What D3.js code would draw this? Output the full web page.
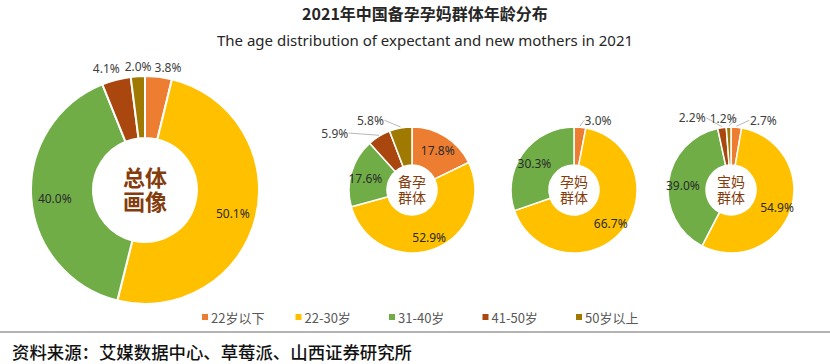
<!DOCTYPE html>
<html>
<head>
<meta charset="utf-8">
<script src="https://cdn.jsdelivr.net/npm/d3@7"></script>
<style>
  html, body { margin: 0; padding: 0; background: #fff; }
  svg { display: block; }
</style>
</head>
<body>
<svg id="chart" width="830" height="364"></svg>
<script>
// data
const categories = ['22岁以下', '22-30岁', '31-40岁', '41-50岁', '50岁以上']
const groupNames = ['总体画像', '备孕群体', '孕妈群体', '宝妈群体']
const overall    = [3.8, 50.1, 40.0, 4.1, 2.0]
const preparing  = [17.8, 52.9, 17.6, 5.9, 5.8]
const pregnant   = [3.0, 66.7, 30.3, 0, 0]
const newMothers = [2.7, 54.9, 39.0, 2.2, 1.2]
const seriesByGroup = [overall, preparing, pregnant, newMothers]

const title = '2021年中国备孕孕妈群体年龄分布'
const subtitle = 'The age distribution of expectant and new mothers in 2021'
const source = '资料来源：艾媒数据中心、草莓派、山西证券研究所'

const colors = ['#ED7D31', '#FFC000', '#70AD47', '#A9470F', '#A07A00']
const cjk = '"Noto Sans CJK SC", "Noto Sans", sans-serif'

// layout of each donut (centre, radii, centre text size)
const donuts = [
  {cx: 145, cy: 190, r: 114, ir: 52, fs: 22, bold: true},
  {cx: 412, cy: 190, r: 63, ir: 25, fs: 14, bold: false},
  {cx: 574, cy: 190, r: 63, ir: 25, fs: 14, bold: false},
  {cx: 731, cy: 190, r: 63, ir: 25, fs: 14, bold: false}
]
// small hand nudges for outside labels, like excel moved them
const labelNudge = {
  '0-0': [8, 3], '0-3': [-7, 0], '0-4': [1, 2],
  '1-3': [-38, 7], '1-4': [-28, 4],
  '2-0': [17, 5],
  '3-0': [26, 5], '3-3': [-28, 2], '3-4': [-5, 3]
}

const svg = d3.select('#chart')
svg.append('rect').attr('width', 830).attr('height', 364).attr('fill', '#fff')

svg.append('text')
  .attr('x', 425).attr('y', 13)
  .attr('text-anchor', 'middle').attr('dominant-baseline', 'central')
  .attr('font-family', cjk).attr('font-size', 16).attr('font-weight', 'bold')
  .attr('fill', '#262626')
  .text(title)

svg.append('text')
  .attr('x', 425).attr('y', 40)
  .attr('text-anchor', 'middle').attr('dominant-baseline', 'central')
  .attr('font-family', '"Noto Sans", sans-serif').attr('font-size', 15)
  .attr('fill', '#262626')
  .text(subtitle)

const pie = d3.pie().sort(null).value(d => d)

seriesByGroup.forEach((values, gi) => {
  const lay = donuts[gi]
  const arc = d3.arc().innerRadius(lay.ir).outerRadius(lay.r)
  const labelRadius = lay.ir + 0.62 * (lay.r - lay.ir)
  const arcs = pie(values).map((d, i) => ({...d, idx: i})).filter(d => d.value > 0)

  const g = svg.append('g').attr('transform', `translate(${lay.cx},${lay.cy})`)

  g.selectAll('path').data(arcs).enter().append('path')
    .attr('d', arc)
    .attr('fill', d => colors[d.idx])
    .attr('stroke', '#fff')
    .attr('stroke-width', gi === 0 ? 2 : 1.5)

  // labels inside the ring
  g.selectAll('text.inner').data(arcs.filter(d => d.value >= 10)).enter().append('text')
    .attr('class', 'inner')
    .attr('x', d => labelRadius * Math.sin((d.startAngle + d.endAngle) / 2))
    .attr('y', d => -labelRadius * Math.cos((d.startAngle + d.endAngle) / 2) + 2)
    .attr('text-anchor', 'middle').attr('dominant-baseline', 'central')
    .attr('font-family', '"Noto Sans", sans-serif').attr('font-size', 12)
    .attr('fill', '#2b2b2b')
    .text(d => d.value.toFixed(1) + '%')

  // small slices get labels outside
  const outer = arcs.filter(d => d.value < 10).map(d => {
    const a = (d.startAngle + d.endAngle) / 2
    const nudge = labelNudge[gi + '-' + d.idx] || [0, 0]
    return {
      d: d,
      px: lay.r * Math.sin(a), py: -lay.r * Math.cos(a),
      x: (lay.r + 12) * Math.sin(a) + nudge[0],
      y: -(lay.r + 12) * Math.cos(a) + nudge[1]
    }
  })

  if (gi > 0) {
    g.selectAll('polyline').data(outer).enter().append('polyline')
      .attr('points', o => {
        const edge = o.x < o.px ? o.x + 14 : o.x - 14
        return [[edge, o.y], [o.px, o.py - 1]].join(' ')
      })
      .attr('fill', 'none').attr('stroke', '#A6A6A6').attr('stroke-width', 0.8)
  }

  g.selectAll('text.outer').data(outer).enter().append('text')
    .attr('class', 'outer')
    .attr('x', o => o.x).attr('y', o => o.y)
    .attr('text-anchor', 'middle').attr('dominant-baseline', 'central')
    .attr('font-family', '"Noto Sans", sans-serif').attr('font-size', 12)
    .attr('fill', '#404040')
    .text(o => o.d.value.toFixed(1) + '%')

  // centre name on two lines, one text element
  const name = groupNames[gi]
  const lineGap = lay.fs * 1.12
  const centre = g.append('text')
    .attr('text-anchor', 'middle')
    .attr('font-family', cjk).attr('font-size', lay.fs)
    .attr('font-weight', lay.bold ? 'bold' : 'normal')
    .attr('fill', '#843C0C')
  centre.selectAll('tspan').data([name.slice(0, 2), name.slice(2)]).enter().append('tspan')
    .attr('x', 0)
    .attr('y', (t, i) => (i - 0.5) * lineGap + lay.fs * 0.36)
    .text(t => t)
})

// legend
const legendX = d3.scalePoint().domain(categories).range([205, 579])
const legend = svg.append('g').attr('transform', 'translate(0,317)')
const item = legend.selectAll('g').data(categories).enter().append('g')
  .attr('transform', d => `translate(${legendX(d)},0)`)
item.append('rect')
  .attr('x', -3).attr('y', -3).attr('width', 6).attr('height', 6)
  .attr('fill', (d, i) => colors[i])
item.append('text')
  .attr('x', 6).attr('y', 0)
  .attr('dominant-baseline', 'central')
  .attr('font-family', cjk).attr('font-size', 13)
  .attr('fill', '#595959')
  .text(d => d)

// source line
svg.append('line')
  .attr('x1', 0).attr('x2', 830).attr('y1', 332).attr('y2', 332)
  .attr('stroke', '#9A9A9A').attr('stroke-width', 1.5)

svg.append('text')
  .attr('x', 12).attr('y', 351)
  .attr('dominant-baseline', 'central')
  .attr('font-family', cjk).attr('font-size', 17.4).attr('font-weight', 500)
  .attr('fill', '#111')
  .text(source)
</script>
</body>
</html>
